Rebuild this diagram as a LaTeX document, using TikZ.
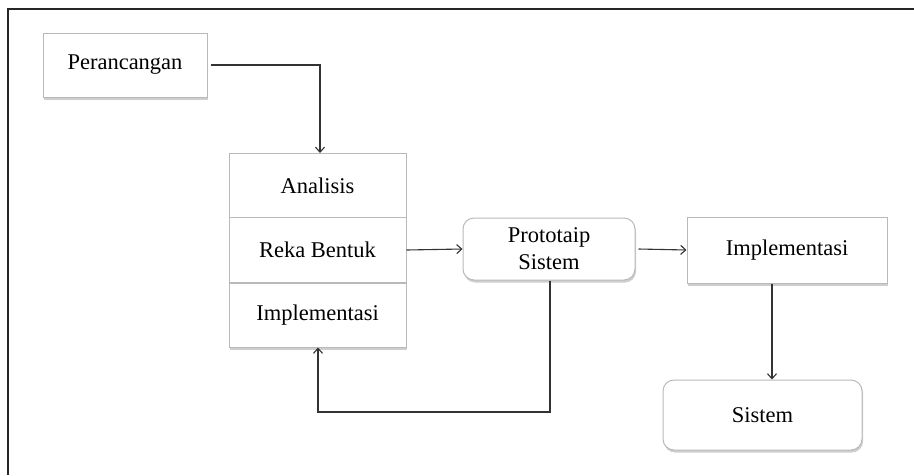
\documentclass[tikz,border=0pt]{standalone}
\usepackage{fontspec}
\setmainfont{Liberation Serif}
\usetikzlibrary{shadows,arrows.meta}
\begin{document}
\begin{tikzpicture}[x=1pt,y=-1pt,
  lbl/.style={font=\fontsize{22.5}{27}\selectfont, text=black, align=center},
  sq/.style={lbl, draw=gray!55, line width=1pt, fill=white, inner sep=0pt,
    drop shadow={shadow xshift=1pt, shadow yshift=-2.5pt, fill=gray!70, opacity=0.55}},
  rbox/.style={sq, rounded corners=11pt},
  conn/.style={draw=black!80, line width=1.1pt, -{Straight Barb[length=5pt,width=9pt]}},
]
\useasboundingbox (0,0) rectangle (914,475);
% outer frame (top and left edges)
\draw[line width=2pt, black!85] (914,9) -- (8,9) -- (8,475);

\node[sq, minimum width=164, minimum height=64] (per) at (125,65) {Perancangan};

\node[sq, minimum width=177, minimum height=64] (ana) at (317.5,185.5) {Analisis};
\node[sq, minimum width=177, minimum height=65] (reka) at (317.5,250) {Reka Bentuk};
\node[sq, minimum width=177, minimum height=64] (imp1) at (317.5,315) {Implementasi};

\node[rbox, minimum width=172, minimum height=62] (pro) at (549,249) {Prototaip\\Sistem};

\node[sq, minimum width=200, minimum height=66] (imp2) at (787,250) {Implementasi};

\node[rbox, minimum width=199, minimum height=70] (sis) at (762.5,415) {Sistem};

\coordinate (c1) at (320,65);
\coordinate (fb1) at (550,412);
\coordinate (fb2) at (318,412);
\coordinate (dx) at (772,0);

\draw[conn] ([xshift=3pt]per.east) -- (c1) -- (c1 |- ana.north);
\draw[conn] (reka.east) -- (pro.west);
\draw[conn] ([xshift=3pt]pro.east) -- (imp2.west);
\draw[conn] (pro.south -| fb1) -- (fb1) -- (fb2) -- (fb2 |- imp1.south);
\draw[conn] (imp2.south -| dx) -- (sis.north -| dx);
\end{tikzpicture}
\end{document}
